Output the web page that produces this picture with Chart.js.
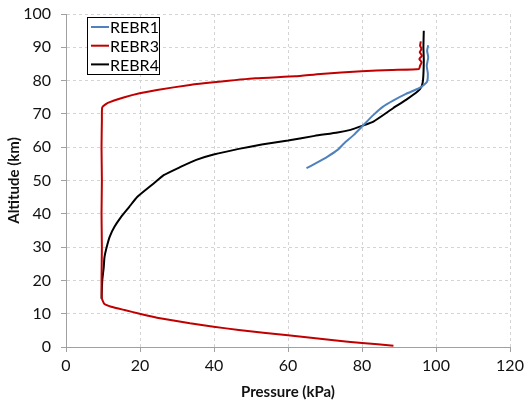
<!DOCTYPE html>
<html><head><meta charset="utf-8">
<script src="https://cdn.jsdelivr.net/npm/chart.js@4/dist/chart.umd.min.js"></script>
<style>html,body{margin:0;padding:0;background:#fff}#wrap{width:532px;height:402px}</style>
</head><body><div id="wrap"><canvas id="c" width="532" height="402"></canvas></div>
<script>
const seriesNames = ["REBR1", "REBR3", "REBR4"];
const xTickValues = [0, 20, 40, 60, 80, 100, 120];
const yTickValues = [0, 10, 20, 30, 40, 50, 60, 70, 80, 90, 100];

const rebr1Pressure = [65, 67.2, 70.7, 73.4, 75.2, 77.8, 80, 83.1, 85.7, 88.4, 91.9, 95.4, 96.7, 97.6, 97.8, 97.5, 97.9, 97.6, 97.9];
const rebr1Altitude = [53.7, 55, 57.2, 59.2, 61.2, 63.7, 66.2, 69.7, 72.2, 74, 76, 77.7, 78.7, 79.7, 82, 84.5, 87, 89, 90.6];

const rebr3Pressure = [88.5, 80, 72.4, 60, 46.7, 39.9, 33.5, 24.6, 19.9, 15.8, 12.2, 10.4, 9.7, 9.6, 9.7, 9.6, 9.7, 9.6, 9.7, 9.8, 11.3, 15.8, 19.9, 24.6, 33.5, 39.9, 51.2, 61.9, 68.8, 79.9, 88, 95.4, 95.7, 96.1, 95.5, 96.2, 95.6, 96.1, 95.7, 95.9];
const rebr3Altitude = [0.4, 1.2, 2.0, 3.5, 5.1, 6.1, 7.1, 8.8, 10, 11.1, 12.1, 12.9, 14.6, 20, 30, 40, 50, 60, 68, 72, 73.3, 75, 76.2, 77.2, 78.7, 79.5, 80.7, 81.3, 82.0, 82.8, 83.2, 83.5, 84.5, 85.5, 86.5, 87.5, 88.5, 89.5, 90.5, 91.8];

const rebr4Pressure = [9.6, 9.8, 10.2, 10.4, 10.9, 11.8, 13.1, 14.9, 17.1, 19.3, 23.7, 26.4, 30.8, 35.2, 39.9, 46.7, 52.9, 60, 67.2, 73.4, 76.9, 80, 83.1, 88.4, 91.9, 95, 96.1, 96.5, 96.7, 96.6, 96.7];
const rebr4Altitude = [14.5, 20, 24, 27, 29.6, 33.1, 36.1, 39.1, 42.1, 45.1, 49.1, 51.6, 54, 56.2, 57.8, 59.5, 60.8, 62, 63.4, 64.4, 65.2, 66.4, 67.7, 71.7, 74.2, 76.7, 78.2, 80.2, 86, 90, 95];

function pts(xs, ys) { return xs.map((x, i) => ({ x: x, y: ys[i] })); }

const FONT = "Lato, 'Open Sans', sans-serif";

const legendBox = {
  id: 'legendBox',
  afterDraw(chart) {
    const ctx = chart.ctx;
    const x0 = 87, y0 = 17, w = 72, h = 57;
    ctx.save();
    ctx.fillStyle = '#fff';
    ctx.fillRect(x0, y0, w, h);
    ctx.strokeStyle = '#000';
    ctx.lineWidth = 1;
    ctx.strokeRect(x0 + 0.5, y0 + 0.5, w, h);
    ctx.font = "16px " + FONT;
    ctx.textBaseline = 'middle';
    chart.data.datasets.forEach((ds, i) => {
      const yy = y0 + 10 + i * 18.7;
      ctx.strokeStyle = ds.borderColor;
      ctx.lineWidth = 2;
      ctx.beginPath(); ctx.moveTo(x0 + 4, yy); ctx.lineTo(x0 + 22, yy); ctx.stroke();
      ctx.fillStyle = '#000';
      ctx.fillText(ds.label, x0 + 23, yy + 1);
    });
    ctx.restore();
  }
};

const common = { showLine: true, borderWidth: 2, pointRadius: 0, tension: 0.15 };

new Chart(document.getElementById('c'), {
  type: 'scatter',
  data: {
    datasets: [
      Object.assign({ label: seriesNames[0], data: pts(rebr1Pressure, rebr1Altitude), borderColor: '#4f81bd' }, common),
      Object.assign({ label: seriesNames[1], data: pts(rebr3Pressure, rebr3Altitude), borderColor: '#c00000' }, common),
      Object.assign({ label: seriesNames[2], data: pts(rebr4Pressure, rebr4Altitude), borderColor: '#000000' }, common)
    ]
  },
  options: {
    responsive: false,
    animation: false,
    layout: { padding: { left: 0, right: 22, top: 14, bottom: 0 } },
    plugins: { legend: { display: false }, tooltip: { enabled: false } },
    scales: {
      x: {
        type: 'linear', min: 0, max: 120,
        afterBuildTicks(s) { s.ticks = xTickValues.map(v => ({ value: v })); },
        afterFit(s) { s.height = 55; s.paddingLeft = 0; s.paddingRight = 0; },
        ticks: { color: '#111', font: { family: FONT, size: 16 }, padding: 4 },
        grid: { color: '#d4d4d4', tickColor: '#a0a0a0', tickLength: 5, tickBorderDash: [] },
        border: { color: '#a0a0a0', width: 1, dash: [3, 3] },
        title: { display: true, text: 'Pressure (kPa)', color: '#111', font: { family: FONT, size: 15, weight: 'bold' }, padding: { top: 0, bottom: 1 } }
      },
      y: {
        type: 'linear', min: 0, max: 100,
        afterBuildTicks(s) { s.ticks = yTickValues.map(v => ({ value: v })); },
        afterFit(s) { s.width = 66; s.paddingTop = 0; s.paddingBottom = 0; },
        ticks: { color: '#111', font: { family: FONT, size: 16 }, padding: 10 },
        grid: { color: '#d4d4d4', tickColor: '#a0a0a0', tickLength: 5, tickBorderDash: [] },
        border: { color: '#a0a0a0', width: 1, dash: [3, 3] },
        title: { display: true, text: 'Altitude (km)', color: '#111', font: { family: FONT, size: 15, weight: 'bold' }, padding: { top: 5, bottom: 0 } }
      }
    }
  },
  plugins: [legendBox]
});
</script></body></html>
